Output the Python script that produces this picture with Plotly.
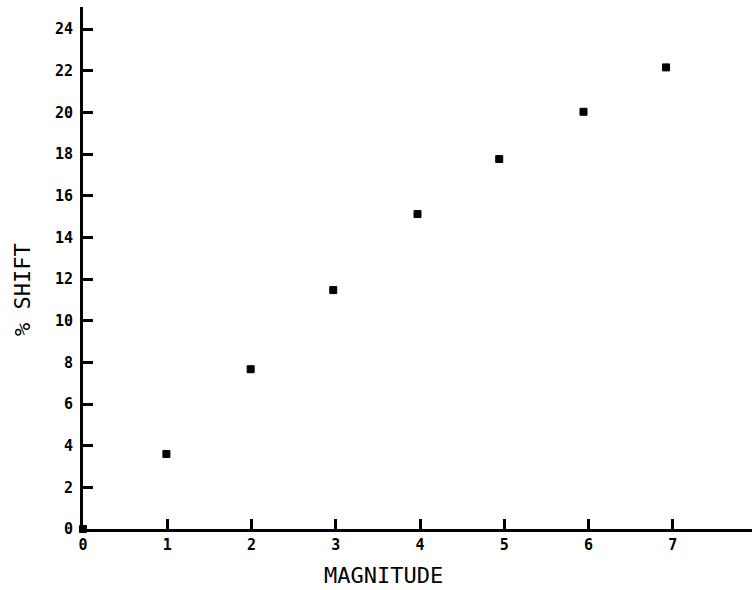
import plotly.graph_objects as go

magnitude = [0.0, 0.99, 1.99, 2.97, 3.97, 4.94, 5.94, 6.92]
pct_shift = [0.0, 3.6, 7.67, 11.47, 15.12, 17.76, 20.03, 22.16]
x_ticks = [0, 1, 2, 3, 4, 5, 6, 7]
y_ticks = [0, 2, 4, 6, 8, 10, 12, 14, 16, 18, 20, 22, 24]

W, H = 752, 590
L, R, T, B = 83, 0, 7, 61
pw, ph = W - L - R, H - T - B

fig = go.Figure(go.Scatter(
    x=magnitude, y=pct_shift, mode="markers",
    marker=dict(symbol="square", size=7, color="black",
                line=dict(color="black", width=1)),
    cliponaxis=False, showlegend=False))

font = "DejaVu Sans Mono"
fig.update_layout(
    width=W, height=H,
    margin=dict(l=L, r=R, t=T, b=B),
    paper_bgcolor="white", plot_bgcolor="white",
    xaxis=dict(range=[0, 7.94], tickvals=x_ticks, ticktext=[str(v) for v in x_ticks],
               showgrid=False, zeroline=False, showline=True, linecolor="black", linewidth=3,
               ticks="inside", ticklen=10, tickwidth=3, tickcolor="black",
               tickfont=dict(family=font, size=15, color="black", weight="bold")),
    yaxis=dict(range=[0, 25.06], tickvals=y_ticks, ticktext=[str(v) for v in y_ticks],
               showgrid=False, zeroline=False, showline=True, linecolor="black", linewidth=3,
               ticks="inside", ticklen=10, tickwidth=3, tickcolor="black",
               ticklabelstandoff=4,
               tickfont=dict(family=font, size=15, color="black", weight="bold")),
    annotations=[
        dict(text="MAGNITUDE", xref="paper", yref="paper",
             x=(383.5 - L) / pw, y=(T + ph - 575) / ph,
             showarrow=False, xanchor="center", yanchor="middle",
             font=dict(family=font, size=22, color="black")),
        dict(text="% SHIFT", xref="paper", yref="paper",
             x=(22 - L) / pw, y=(T + ph - 290) / ph, textangle=-90,
             showarrow=False, xanchor="center", yanchor="middle",
             font=dict(family=font, size=22, color="black")),
    ],
)

fig.write_html("out.html", config={"displayModeBar": False},
               post_script="document.body.style.margin='0';document.body.style.padding='0';")
